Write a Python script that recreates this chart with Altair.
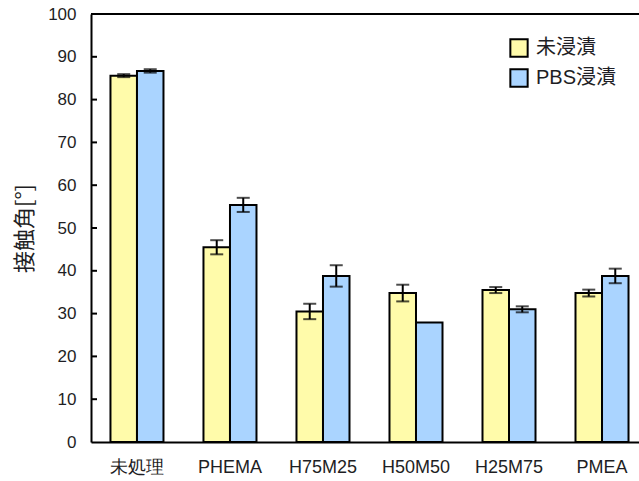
import altair as alt
import pandas as pd

# Contact angle by surface treatment, before and after PBS immersion
groups = ["未処理", "PHEMA", "H75M25", "H50M50", "H25M75", "PMEA"]
series = ["未浸漬", "PBS浸漬"]
unsoaked = [85.6, 45.5, 30.5, 34.8, 35.5, 34.8]
unsoaked_err = [0.35, 1.65, 1.8, 1.95, 0.7, 0.8]
pbs = [86.7, 55.4, 38.8, 27.9, 31.0, 38.8]
pbs_err = [0.4, 1.65, 2.5, 0.0, 0.7, 1.7]
y_ticks = list(range(0, 101, 10))
colors = ["#FFFBAA", "#AAD4FF"]

rows = []
for name, vals, errs in ((series[0], unsoaked, unsoaked_err), (series[1], pbs, pbs_err)):
    for g, v, e in zip(groups, vals, errs):
        rows.append({"group": g, "series": name, "value": v, "err": e,
                     "lo": v - e, "hi": v + e})
df = pd.DataFrame(rows)

FONT = "Liberation Sans, Noto Sans CJK JP, sans-serif"
TEXT = "#1e1e24"

yscale = alt.Scale(domain=[0, 100], nice=False, zero=True)
yaxis = alt.Axis(values=y_ticks, ticks=False, grid=False, domainColor="black",
                 domainWidth=2, labelFontSize=17, labelPadding=15, labelColor=TEXT,
                 title="接触角[°]", titleFontSize=22, titlePadding=11,
                 titleFont="Noto Sans CJK JP", titleFontWeight="normal", titleColor=TEXT)

x = alt.X("group:N", sort=groups, title=None,
          scale=alt.Scale(paddingInner=0.43, paddingOuter=0.161, align=0.65),
          axis=alt.Axis(labelAngle=0, ticks=False, domainColor="black", domainWidth=2,
                        labelFontSize=18, labelPadding=16, labelColor=TEXT))
xo = alt.XOffset("series:N", sort=series, scale=alt.Scale(paddingInner=0, paddingOuter=0))

base = alt.Chart(df)

bars = base.mark_bar(stroke="black", strokeWidth=2).encode(
    x=x, xOffset=xo,
    y=alt.Y("value:Q", scale=yscale, axis=yaxis),
    color=alt.Color("series:N", sort=series,
                    scale=alt.Scale(domain=series, range=colors),
                    legend=alt.Legend(title=None, orient="none", legendX=418, legendY=24,
                                      symbolType="square", symbolSize=300,
                                      symbolStrokeColor="black", symbolStrokeWidth=2,
                                      labelFontSize=20, labelFont=FONT, labelColor=TEXT,
                                      rowPadding=4, labelOffset=7, padding=0)),
)

err_base = base.transform_filter("datum.err > 0")

stems = err_base.mark_rule(color="black", strokeWidth=2).encode(
    x=x, xOffset=xo,
    y=alt.Y("lo:Q", scale=yscale, axis=yaxis),
    y2="hi:Q",
)

caps = err_base.transform_fold(["lo", "hi"], as_=["end", "cap"]).mark_tick(
    color="black", thickness=2, size=13
).encode(
    x=x, xOffset=xo,
    y=alt.Y("cap:Q", scale=yscale, axis=yaxis),
)

# inward-facing y ticks
tick_df = pd.DataFrame({"t": y_ticks[1:-1]})
inner_ticks = alt.Chart(tick_df).mark_rule(color="black", strokeWidth=2).encode(
    y=alt.Y("t:Q", scale=yscale, axis=yaxis),
    x=alt.value(0), x2=alt.value(6),
)

# top frame line
top_line = alt.Chart(pd.DataFrame({"t": [100]})).mark_rule(color="black", strokeWidth=2).encode(
    y=alt.Y("t:Q", scale=yscale, axis=yaxis),
)

chart = alt.layer(bars, stems, caps, inner_ticks, top_line).properties(
    width=548, height=428,
    autosize=alt.AutoSizeParams(type="none"),
    padding={"left": 91, "top": 14, "right": 0, "bottom": 39},
).configure_view(stroke=None).configure_axis(
    labelFont=FONT
).configure(background="white")

chart.save("out.html", embed_options={"renderer": "svg", "actions": False})
